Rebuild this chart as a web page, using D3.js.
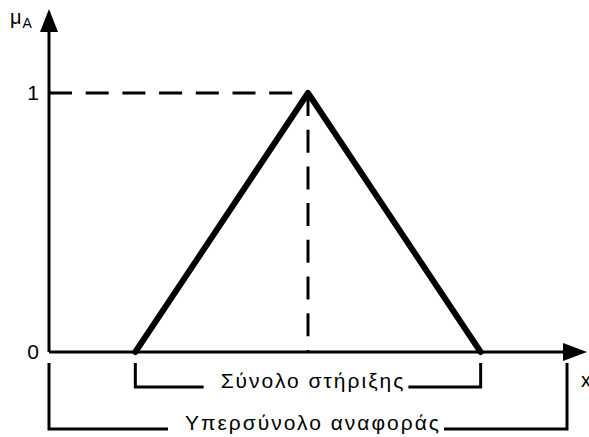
<!DOCTYPE html>
<html>
<head>
<meta charset="utf-8">
<script src="https://cdn.jsdelivr.net/npm/d3@7"></script>
<style>
  body { margin: 0; background: #fff; }
  text { font-family: "Liberation Sans", Arial, sans-serif; fill: #000; }
</style>
</head>
<body>
<div id="vis"></div>
<script>
// triangular membership function: corners on the x axis and their degrees
var xs = [2, 6, 10];
var mu = [0, 1, 0];
// tick labels on the vertical axis
var yTicks = [0, 1];
var yTickLabels = ["0", "1"];
// brackets under the axis: [from, to] and their labels
var supportRange = [2, 10];
var supportLabel = "Σύνολο στήριξης";
var universeRange = [0, 12];
var universeLabel = "Υπερσύνολο αναφοράς";

var width = 589, height = 437;

var svg = d3.select("#vis").append("svg")
  .attr("width", width)
  .attr("height", height);

var x = d3.scaleLinear().domain([0, 12]).range([49, 567]);
var y = d3.scaleLinear().domain([0, 1]).range([352, 93]);

// axes with arrows
svg.append("line")
  .attr("x1", x(0)).attr("y1", y(0))
  .attr("x2", x(0)).attr("y2", 30)
  .attr("stroke", "#000").attr("stroke-width", 3);
svg.append("path")
  .attr("d", `M${x(0)},9 L${x(0) - 9},32 L${x(0) + 9},32 Z`)
  .attr("fill", "#000");

svg.append("line")
  .attr("x1", x(0)).attr("y1", y(0))
  .attr("x2", 565).attr("y2", y(0))
  .attr("stroke", "#000").attr("stroke-width", 3);
svg.append("path")
  .attr("d", `M587,${y(0)} L563,${y(0) - 9} L563,${y(0) + 9} Z`)
  .attr("fill", "#000");

// axis labels
var muLabel = svg.append("text").attr("x", 10).attr("y", 24).style("font-size", "20px");
muLabel.append("tspan").text("μ");
muLabel.append("tspan").attr("dy", 4).attr("dx", 1).style("font-size", "14px").text("A");

svg.append("text")
  .attr("x", 581).attr("y", 387)
  .style("font-size", "20px")
  .text("x");

// y tick labels
svg.selectAll(".ytick")
  .data(yTicks)
  .enter().append("text")
  .attr("class", "ytick")
  .attr("x", 39)
  .attr("y", (d) => y(d) + 7)
  .attr("text-anchor", "end")
  .style("font-size", "21px")
  .text((d, i) => yTickLabels[i]);

// dashed guides to the peak
var peak = xs[mu.indexOf(d3.max(mu))];
svg.append("line")
  .attr("x1", x(0)).attr("y1", y(1))
  .attr("x2", x(peak)).attr("y2", y(1))
  .attr("stroke", "#000").attr("stroke-width", 3)
  .attr("stroke-dasharray", "23,13.7");
svg.append("line")
  .attr("x1", x(peak)).attr("y1", y(1))
  .attr("x2", x(peak)).attr("y2", y(0))
  .attr("stroke", "#000").attr("stroke-width", 3)
  .attr("stroke-dasharray", "23,13.7");

// the membership triangle
var line = d3.line()
  .x((d, i) => x(xs[i]))
  .y((d) => y(d));
svg.append("path")
  .datum(mu)
  .attr("d", line)
  .attr("fill", "none")
  .attr("stroke", "#000")
  .attr("stroke-width", 6)
  .attr("stroke-linejoin", "round")
  .attr("stroke-linecap", "round");

// brackets with a label sitting on the bottom edge
function bracket(range, label, yTop, yBottom) {
  var x0 = x(range[0]), x1 = x(range[1]);
  var cx = (x0 + x1) / 2 + 4;
  var g = svg.append("g");
  var t = g.append("text")
    .attr("y", yBottom + 1)
    .style("font-size", "21px")
    .style("letter-spacing", "2px")
    .text(label);
  var w = t.node().getComputedTextLength() - 2;
  var left = cx - w / 2;
  t.attr("x", left);
  g.append("path")
    .attr("d", `M${x0},${yTop} V${yBottom} H${left - 17}`)
    .attr("fill", "none").attr("stroke", "#000").attr("stroke-width", 3);
  g.append("path")
    .attr("d", `M${left + w + 5},${yBottom} H${x1} V${yTop}`)
    .attr("fill", "none").attr("stroke", "#000").attr("stroke-width", 3);
}

bracket(supportRange, supportLabel, 363, 387);
bracket(universeRange, universeLabel, 363, 429);
</script>
</body>
</html>
